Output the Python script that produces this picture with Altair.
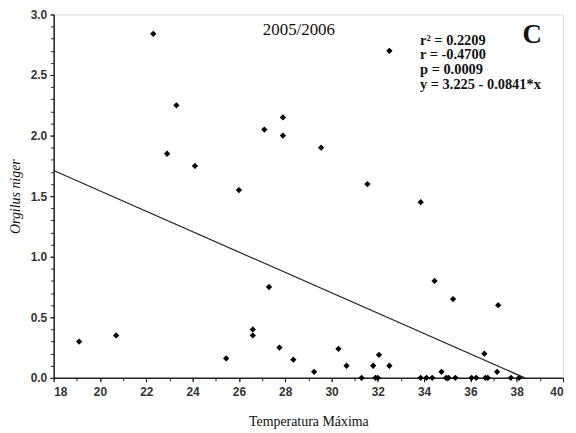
import altair as alt
import pandas as pd

# Data
temp_max = [19.1, 20.7, 22.3, 22.9, 23.3, 24.1, 25.45, 26.0, 26.6, 26.6,
            27.1, 27.3, 27.75, 27.9, 27.9, 28.35, 29.25, 29.55, 30.3, 30.65,
            31.3, 31.55, 31.8, 31.9, 32.05, 32.0, 32.5, 32.5, 33.85, 33.85,
            34.1, 34.35, 34.45, 34.75, 34.95, 35.05, 35.25, 35.35, 36.05, 36.25,
            36.6, 36.65, 36.75, 37.15, 37.2, 37.75, 38.1]
orgilus = [0.30, 0.35, 2.84, 1.85, 2.25, 1.75, 0.16, 1.55, 0.40, 0.35,
           2.05, 0.75, 0.25, 2.15, 2.00, 0.15, 0.05, 1.90, 0.24, 0.10,
           0.0, 1.60, 0.10, 0.0, 0.19, 0.0, 2.70, 0.10, 1.45, 0.0,
           0.0, 0.0, 0.80, 0.05, 0.0, 0.0, 0.65, 0.0, 0.0, 0.0,
           0.20, 0.0, 0.0, 0.05, 0.60, 0.0, 0.0]

intercept = 3.225
slope = -0.0841
x_start = 18

season_label = ["2005/2006"]
stats_lines = ["r\u00b2 = 0.2209", "r = -0.4700", "p = 0.0009", "y = 3.225 - 0.0841*x"]
panel_label = ["C"]

x_major = [18, 20, 22, 24, 26, 28, 30, 32, 34, 36, 38, 40]
x_minor = list(range(18, 41))
y_major = [0.0, 0.5, 1.0, 1.5, 2.0, 2.5, 3.0]
y_minor = [round(i * 0.1, 1) for i in range(31)]

pts = pd.DataFrame({"x": temp_max, "y": orgilus})
x_end = -intercept / slope
line_df = pd.DataFrame({"x": [x_start, x_end],
                        "y": [intercept + slope * x_start, 0.0]})

xscale = alt.Scale(domain=[18, 40], nice=False, zero=False)
yscale = alt.Scale(domain=[0, 3], nice=False)

lab = dict(labelFont="Liberation Sans", labelFontSize=12, labelFontWeight="bold",
           labelColor="#333333", domainColor="#222222", domainWidth=1.5,
           tickColor="#222222", grid=False)

x_axis = alt.Axis(values=x_major, format="d", tickSize=4, labelPadding=5,
                  orient="bottom",
                  title="Temperatura Máxima", titleFont="Liberation Serif",
                  titleFontSize=14, titleFontWeight="normal", titleColor="#111111",
                  titlePadding=17, **lab)
y_axis = alt.Axis(values=y_major, format=".1f", tickSize=4, labelPadding=3,
                  orient="left",
                  title="Orgilus niger", titleFont="Liberation Serif",
                  titleFontSize=14, titleFontWeight="normal", titleFontStyle="italic",
                  titleColor="#111111", titleX=-38, titleY=183,
                  titleBaseline="middle", **lab)

points = alt.Chart(pts).mark_point(shape="diamond", filled=True, color="black",
                                   size=40, opacity=1).encode(
    x=alt.X("x:Q", scale=xscale, axis=x_axis),
    y=alt.Y("y:Q", scale=yscale, axis=y_axis),
)

minor_x_axis = alt.Axis(values=x_minor, labels=False, domain=False, tickSize=3,
                        orient="bottom", tickColor="#222222", title=None, grid=False)
minor_y_axis = alt.Axis(values=y_minor, labels=False, domain=False, tickSize=3,
                        orient="left", tickColor="#222222", title=None, grid=False)

line = alt.Chart(line_df).mark_line(color="#222222", strokeWidth=1.2).encode(
    x=alt.X("x:Q", scale=xscale, axis=minor_x_axis),
    y=alt.Y("y:Q", scale=yscale, axis=minor_y_axis),
)

season = alt.Chart(pd.DataFrame({"t": season_label})).mark_text(
    font="Liberation Serif", fontSize=17, color="#111111", align="center",
    baseline="middle").encode(x=alt.value(247), y=alt.value(16), text="t:N")

stats_df = pd.DataFrame({"t": stats_lines, "i": list(range(len(stats_lines)))})
stats = alt.Chart(stats_df).mark_text(
    font="Liberation Serif", fontSize=14.5, fontWeight="bold", color="#111111",
    align="left", baseline="middle").encode(
    x=alt.value(369),
    y=alt.Y("i:O", scale=alt.Scale(domain=list(range(len(stats_lines))),
                                   range=[19, 78]), axis=None),
    text="t:N")

panel = alt.Chart(pd.DataFrame({"t": panel_label})).mark_text(
    font="Liberation Serif", fontSize=27, fontWeight="bold", color="#111111",
    align="center", baseline="middle").encode(x=alt.value(482), y=alt.value(21), text="t:N")

chart = alt.layer(points, line, season, stats, panel).resolve_axis(
    x="independent", y="independent"
).resolve_scale(y="independent").properties(
    width=513, height=366,
    autosize=alt.AutoSizeParams(type="none"),
    padding={"left": 46, "top": 5, "right": 5, "bottom": 50},
).configure_view(stroke=None).configure(background="white")

chart.save("out.html", embed_options={"renderer": "svg", "actions": False})
